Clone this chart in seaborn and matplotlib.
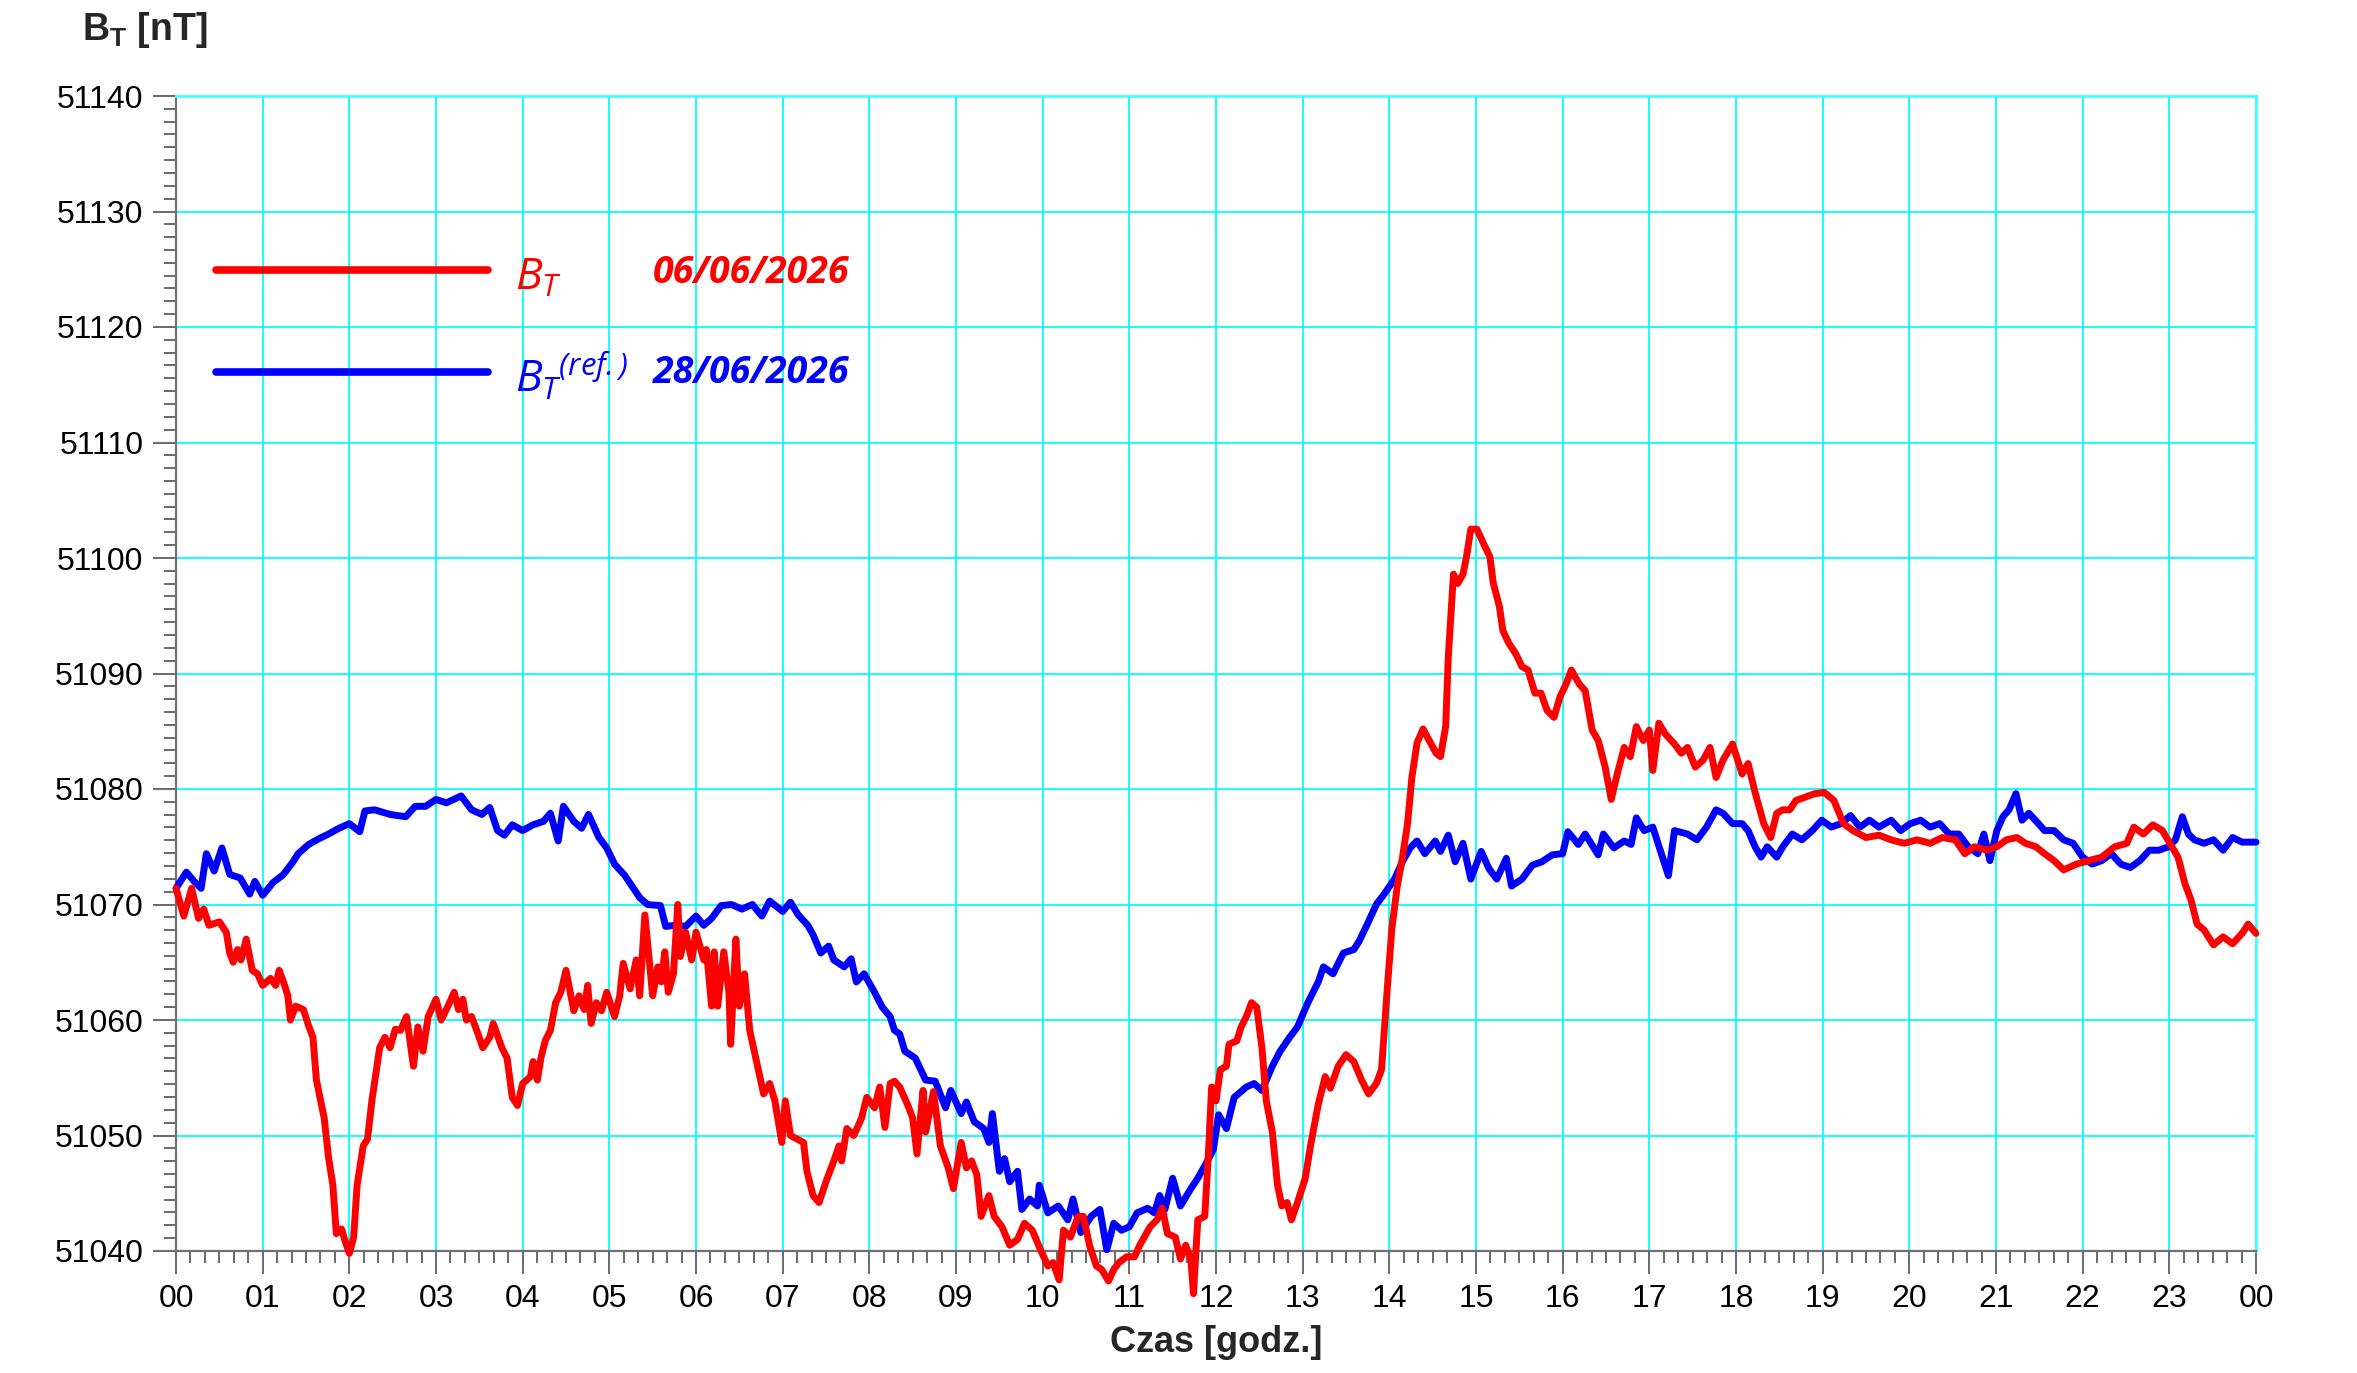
import matplotlib
matplotlib.use('Agg')
import matplotlib.pyplot as plt
from matplotlib.ticker import MultipleLocator, FixedLocator, FormatStrFormatter
from matplotlib.lines import Line2D
import pandas as pd
import seaborn as sns

# B_T 06/06/2026 (hours, nT)
red_h = [0.00, 0.09, 0.18, 0.26, 0.32, 0.38, 0.50, 0.58, 0.62, 0.66, 0.71, 0.75, 0.81, 0.88, 0.94,
         1.00, 1.09, 1.15, 1.19, 1.24, 1.29, 1.32, 1.38, 1.47, 1.53, 1.58, 1.62, 1.71, 1.76, 1.81,
         1.85, 1.91, 1.95, 2.00, 2.05, 2.09, 2.16, 2.21, 2.26, 2.35, 2.41, 2.47, 2.53, 2.59, 2.66,
         2.74, 2.79, 2.85, 2.91, 3.00, 3.06, 3.15, 3.21, 3.26, 3.31, 3.35, 3.41, 3.47, 3.54, 3.62,
         3.66, 3.76, 3.82, 3.88, 3.94, 4.00, 4.09, 4.12, 4.17, 4.21, 4.26, 4.32, 4.38, 4.44, 4.50,
         4.59, 4.65, 4.71, 4.75, 4.79, 4.85, 4.91, 4.97, 5.06, 5.12, 5.16, 5.24, 5.31, 5.35, 5.41,
         5.50, 5.56, 5.60, 5.64, 5.68, 5.74, 5.79, 5.82, 5.88, 5.95, 6.00, 6.09, 6.12, 6.18, 6.21,
         6.25, 6.32, 6.38, 6.40, 6.46, 6.50, 6.56, 6.62, 6.69, 6.78, 6.85, 6.91, 6.99, 7.03, 7.09,
         7.24, 7.28, 7.35, 7.42, 7.50, 7.59, 7.65, 7.68, 7.74, 7.82, 7.91, 7.97, 8.06, 8.12, 8.18,
         8.24, 8.29, 8.35, 8.44, 8.50, 8.55, 8.62, 8.65, 8.74, 8.82, 8.91, 8.97, 9.06, 9.12, 9.18,
         9.24, 9.29, 9.38, 9.44, 9.53, 9.62, 9.71, 9.79, 9.88, 9.97, 10.06, 10.12, 10.19, 10.24, 10.32,
         10.41, 10.47, 10.54, 10.62, 10.68, 10.76, 10.82, 10.88, 10.97, 11.06, 11.12, 11.24, 11.32, 11.38, 11.44,
         11.53, 11.59, 11.65, 11.71, 11.74, 11.79, 11.87, 11.91, 11.95, 12.00, 12.05, 12.12, 12.15, 12.24, 12.29,
         12.35, 12.41, 12.47, 12.53, 12.58, 12.65, 12.71, 12.76, 12.82, 12.87, 12.94, 13.03, 13.09, 13.18, 13.26,
         13.32, 13.41, 13.50, 13.59, 13.68, 13.76, 13.85, 13.91, 13.97, 14.03, 14.09, 14.15, 14.21, 14.26, 14.32,
         14.39, 14.46, 14.54, 14.59, 14.65, 14.68, 14.74, 14.79, 14.85, 14.89, 14.94, 15.01, 15.09, 15.16, 15.20,
         15.27, 15.31, 15.38, 15.46, 15.53, 15.60, 15.68, 15.75, 15.82, 15.90, 15.97, 16.04, 16.10, 16.19, 16.26,
         16.34, 16.41, 16.49, 16.56, 16.63, 16.71, 16.78, 16.85, 16.93, 17.00, 17.04, 17.11, 17.18, 17.29, 17.37,
         17.44, 17.53, 17.62, 17.70, 17.77, 17.85, 17.96, 18.07, 18.14, 18.22, 18.32, 18.40, 18.47, 18.54, 18.62,
         18.69, 18.80, 18.91, 19.02, 19.13, 19.24, 19.35, 19.50, 19.65, 19.79, 19.94, 20.09, 20.24, 20.38, 20.53,
         20.64, 20.75, 20.90, 21.01, 21.12, 21.24, 21.34, 21.46, 21.56, 21.67, 21.78, 21.93, 22.07, 22.22, 22.37,
         22.51, 22.59, 22.70, 22.81, 22.92, 23.03, 23.10, 23.18, 23.25, 23.32, 23.40, 23.51, 23.62, 23.73, 23.84,
         23.91, 24.00]
red_v = [51071.4, 51069.0, 51071.4, 51068.8, 51069.6, 51068.2, 51068.5, 51067.6, 51065.8, 51065.0, 51066.1, 51065.2, 51067.0, 51064.3, 51064.0,
         51063.0, 51063.6, 51063.0, 51064.3, 51063.3, 51062.1, 51060.0, 51061.2, 51060.9, 51059.5, 51058.5, 51054.8, 51051.5, 51048.1, 51045.7,
         51041.5, 51041.9, 51040.9, 51039.8, 51041.2, 51045.7, 51049.1, 51049.7, 51053.0, 51057.6, 51058.5, 51057.6, 51059.2, 51059.1, 51060.3,
         51056.0, 51059.4, 51057.3, 51060.3, 51061.8, 51060.0, 51061.4, 51062.4, 51060.9, 51061.8, 51060.0, 51060.3, 51059.1, 51057.6, 51058.5,
         51059.7, 51057.6, 51056.7, 51053.3, 51052.6, 51054.5, 51055.1, 51056.4, 51054.8, 51056.7, 51058.2, 51059.1, 51061.5, 51062.4, 51064.3,
         51060.8, 51062.1, 51060.9, 51063.0, 51059.7, 51061.5, 51060.8, 51062.4, 51060.3, 51062.1, 51064.9, 51062.7, 51065.2, 51062.1, 51069.1,
         51062.1, 51064.6, 51063.3, 51065.9, 51062.4, 51064.0, 51070.0, 51065.5, 51067.6, 51065.2, 51067.6, 51065.2, 51066.1, 51061.2, 51065.9,
         51061.2, 51065.9, 51062.4, 51057.9, 51067.0, 51061.2, 51064.0, 51059.1, 51056.7, 51053.6, 51054.5, 51053.0, 51049.4, 51053.0, 51050.0,
         51049.4, 51046.9, 51044.8, 51044.2, 51046.0, 51047.8, 51049.1, 51047.8, 51050.6, 51050.0, 51051.5, 51053.3, 51052.4, 51054.2, 51050.7,
         51054.5, 51054.7, 51054.2, 51052.7, 51051.5, 51048.4, 51053.9, 51050.3, 51053.8, 51049.1, 51047.2, 51045.4, 51049.4, 51047.2, 51047.8,
         51046.6, 51043.0, 51044.8, 51043.0, 51042.1, 51040.5, 51041.0, 51042.4, 51041.8, 51040.2, 51038.7, 51039.0, 51037.5, 51041.8, 51041.2,
         51043.0, 51043.0, 51040.5, 51038.7, 51038.4, 51037.4, 51038.4, 51039.0, 51039.5, 51039.5, 51040.5, 51042.1, 51042.7, 51043.7, 51041.5,
         51041.2, 51039.3, 51040.5, 51039.3, 51036.3, 51042.7, 51043.0, 51048.1, 51054.2, 51053.0, 51055.7, 51056.0, 51057.9, 51058.2, 51059.4,
         51060.3, 51061.5, 51061.1, 51057.6, 51053.0, 51050.3, 51045.7, 51043.9, 51044.2, 51042.7, 51044.2, 51046.3, 51049.1, 51052.7, 51055.1,
         51054.1, 51056.0, 51057.0, 51056.4, 51054.8, 51053.6, 51054.5, 51055.7, 51062.1, 51068.0, 51071.5, 51074.0, 51077.0, 51081.0, 51084.0,
         51085.2, 51084.2, 51083.1, 51082.8, 51085.4, 51091.4, 51098.6, 51097.8, 51098.6, 51100.1, 51102.5, 51102.5, 51101.2, 51100.1, 51097.8,
         51095.8, 51093.7, 51092.6, 51091.7, 51090.6, 51090.3, 51088.3, 51088.3, 51086.8, 51086.2, 51088.0, 51089.1, 51090.3, 51089.1, 51088.5,
         51085.1, 51084.2, 51081.9, 51079.1, 51081.3, 51083.6, 51082.8, 51085.4, 51084.2, 51085.1, 51081.6, 51085.7, 51084.8, 51083.9, 51083.1,
         51083.6, 51081.9, 51082.5, 51083.6, 51081.0, 51082.5, 51083.9, 51081.3, 51082.2, 51079.7, 51077.0, 51075.8, 51077.9, 51078.2, 51078.2,
         51079.0, 51079.3, 51079.6, 51079.7, 51079.0, 51077.0, 51076.4, 51075.8, 51076.0, 51075.6, 51075.3, 51075.6, 51075.3, 51075.8, 51075.6,
         51074.4, 51075.0, 51074.7, 51075.0, 51075.6, 51075.8, 51075.3, 51075.0, 51074.4, 51073.8, 51073.0, 51073.5, 51073.8, 51074.1, 51075.0,
         51075.3, 51076.7, 51076.1, 51076.9, 51076.4, 51075.0, 51074.1, 51071.8, 51070.4, 51068.3, 51067.8, 51066.5, 51067.2, 51066.6, 51067.5,
         51068.3, 51067.5]

# B_T(ref.) 28/06/2026 (hours, nT)
blue_h = [0.00, 0.12, 0.21, 0.29, 0.35, 0.44, 0.53, 0.62, 0.74, 0.85, 0.91, 1.00, 1.12, 1.24, 1.35,
          1.41, 1.53, 1.65, 1.76, 1.88, 2.00, 2.12, 2.18, 2.29, 2.47, 2.65, 2.76, 2.88, 3.00, 3.12,
          3.29, 3.41, 3.53, 3.62, 3.71, 3.79, 3.88, 4.00, 4.12, 4.24, 4.32, 4.41, 4.47, 4.59, 4.68,
          4.76, 4.88, 4.97, 5.06, 5.18, 5.26, 5.35, 5.44, 5.59, 5.65, 5.76, 5.88, 6.00, 6.09, 6.18,
          6.29, 6.41, 6.53, 6.65, 6.76, 6.85, 7.00, 7.09, 7.18, 7.29, 7.35, 7.44, 7.53, 7.59, 7.71,
          7.79, 7.85, 7.94, 8.00, 8.06, 8.15, 8.24, 8.29, 8.35, 8.41, 8.53, 8.65, 8.76, 8.88, 8.94,
          9.06, 9.12, 9.21, 9.32, 9.38, 9.42, 9.50, 9.56, 9.62, 9.71, 9.76, 9.85, 9.94, 9.96, 10.06,
          10.18, 10.29, 10.35, 10.44, 10.56, 10.66, 10.74, 10.82, 10.91, 11.00, 11.09, 11.21, 11.29, 11.35, 11.41,
          11.50, 11.59, 11.71, 11.79, 11.88, 11.97, 12.03, 12.12, 12.21, 12.35, 12.44, 12.53, 12.65, 12.74, 12.85,
          12.94, 13.06, 13.18, 13.24, 13.35, 13.47, 13.59, 13.65, 13.74, 13.85, 13.94, 14.06, 14.15, 14.24, 14.32,
          14.41, 14.53, 14.59, 14.68, 14.76, 14.85, 14.94, 15.06, 15.15, 15.24, 15.35, 15.41, 15.53, 15.65, 15.76,
          15.88, 16.00, 16.06, 16.18, 16.26, 16.41, 16.47, 16.59, 16.71, 16.79, 16.85, 16.94, 17.04, 17.22, 17.29,
          17.44, 17.55, 17.66, 17.77, 17.85, 17.96, 18.07, 18.14, 18.22, 18.29, 18.36, 18.47, 18.54, 18.65, 18.76,
          18.88, 18.99, 19.10, 19.21, 19.32, 19.43, 19.54, 19.65, 19.79, 19.90, 20.01, 20.13, 20.24, 20.35, 20.46,
          20.57, 20.68, 20.79, 20.86, 20.93, 21.01, 21.08, 21.15, 21.23, 21.30, 21.38, 21.49, 21.56, 21.67, 21.78,
          21.89, 22.00, 22.11, 22.22, 22.33, 22.44, 22.55, 22.66, 22.77, 22.88, 22.99, 23.07, 23.15, 23.22, 23.29,
          23.40, 23.51, 23.62, 23.73, 23.84, 24.00]
blue_v = [51071.4, 51072.8, 51072.0, 51071.4, 51074.4, 51072.9, 51074.9, 51072.6, 51072.3, 51070.9, 51072.0, 51070.8, 51071.9, 51072.6, 51073.7,
          51074.4, 51075.2, 51075.7, 51076.1, 51076.6, 51077.0, 51076.3, 51078.1, 51078.2, 51077.8, 51077.6, 51078.5, 51078.5, 51079.1, 51078.8,
          51079.4, 51078.2, 51077.8, 51078.4, 51076.4, 51076.0, 51076.9, 51076.4, 51076.9, 51077.2, 51077.9, 51075.5, 51078.5, 51077.2, 51076.6,
          51077.8, 51075.8, 51074.9, 51073.5, 51072.5, 51071.6, 51070.6, 51070.0, 51069.9, 51068.1, 51068.2, 51068.1, 51069.0, 51068.2, 51068.8,
          51069.9, 51070.0, 51069.6, 51070.0, 51069.0, 51070.3, 51069.4, 51070.2, 51069.1, 51068.2, 51067.4, 51065.8, 51066.4, 51065.2, 51064.6,
          51065.3, 51063.3, 51064.0, 51063.2, 51062.4, 51061.1, 51060.3, 51059.1, 51058.8, 51057.3, 51056.7, 51054.8, 51054.7, 51052.4, 51053.9,
          51051.9, 51052.9, 51051.2, 51050.6, 51049.4, 51051.9, 51046.9, 51048.0, 51046.0, 51046.9, 51043.6, 51044.5, 51043.9, 51045.7, 51043.3,
          51043.9, 51042.7, 51044.5, 51041.6, 51043.0, 51043.6, 51040.1, 51042.4, 51041.8, 51042.1, 51043.3, 51043.7, 51043.3, 51044.8, 51043.6,
          51046.3, 51043.9, 51045.4, 51046.3, 51047.5, 51048.8, 51051.8, 51050.6, 51053.3, 51054.2, 51054.5, 51053.9, 51056.0, 51057.3, 51058.5,
          51059.4, 51061.5, 51063.3, 51064.6, 51064.0, 51065.8, 51066.1, 51066.8, 51068.2, 51070.0, 51070.9, 51072.2, 51073.7, 51074.9, 51075.5,
          51074.4, 51075.5, 51074.6, 51076.0, 51073.7, 51075.3, 51072.2, 51074.6, 51073.1, 51072.2, 51074.0, 51071.6, 51072.2, 51073.4, 51073.7,
          51074.3, 51074.4, 51076.3, 51075.2, 51076.1, 51074.3, 51076.1, 51074.9, 51075.5, 51075.2, 51077.5, 51076.4, 51076.7, 51072.5, 51076.4,
          51076.1, 51075.6, 51076.7, 51078.2, 51077.9, 51077.0, 51077.0, 51076.4, 51075.0, 51074.1, 51075.0, 51074.1, 51075.0, 51076.1, 51075.6,
          51076.4, 51077.3, 51076.7, 51077.0, 51077.7, 51076.7, 51077.3, 51076.7, 51077.3, 51076.4, 51077.0, 51077.3, 51076.7, 51077.0, 51076.1,
          51076.1, 51075.0, 51074.4, 51076.1, 51073.8, 51076.4, 51077.6, 51078.2, 51079.6, 51077.3, 51077.9, 51077.0, 51076.4, 51076.4, 51075.6,
          51075.3, 51074.1, 51073.5, 51073.8, 51074.4, 51073.5, 51073.2, 51073.8, 51074.7, 51074.7, 51075.0, 51075.6, 51077.6, 51076.1, 51075.6,
          51075.3, 51075.6, 51074.7, 51075.8, 51075.4, 51075.4]

hour_labels = ['%02d' % (h % 24) for h in range(25)]
day_date = '06/06/2026'
ref_date = '28/06/2026'

sns.set_style('white')
plt.rcParams['font.family'] = ['Liberation Sans', 'DejaVu Sans']
plt.rcParams['mathtext.fontset'] = 'custom'
plt.rcParams['mathtext.rm'] = 'Open Sans:italic'
plt.rcParams['mathtext.it'] = 'Open Sans:italic'
plt.rcParams['mathtext.bf'] = 'Liberation Sans:bold'

W, H = 2357, 1373
fig = plt.figure(figsize=(W / 100, H / 100), dpi=100)
ax = fig.add_axes([176 / W, 1 - 1251 / H, 2080 / W, 1155 / H])

df_blue = pd.DataFrame({'h': blue_h, 'B': blue_v})
df_red = pd.DataFrame({'h': red_h, 'B': red_v})
sns.lineplot(data=df_blue, x='h', y='B', color='#0000FF', lw=5.0, ax=ax,
             estimator=None, sort=False, clip_on=False, zorder=3)
sns.lineplot(data=df_red, x='h', y='B', color='#FF0000', lw=5.0, ax=ax,
             estimator=None, sort=False, clip_on=False, zorder=4)

ax.set_xlim(0, 24)
ax.set_ylim(51040, 51140)
ax.xaxis.set_major_locator(FixedLocator(range(25)))
ax.set_xticklabels(hour_labels)
ax.xaxis.set_minor_locator(MultipleLocator(1 / 6))
ax.yaxis.set_major_locator(MultipleLocator(10))
ax.yaxis.set_minor_locator(MultipleLocator(10 / 9))
ax.yaxis.set_major_formatter(FormatStrFormatter('%d'))

ax.grid(True, which='major', color='#00FFFF', lw=1.3)
ax.set_axisbelow(True)
for s in ['left', 'bottom']:
    ax.spines[s].set_color('#707070')
    ax.spines[s].set_linewidth(1.6)
for s in ['top', 'right']:
    ax.spines[s].set_color('#40FFFF')
    ax.spines[s].set_linewidth(2.0)

ax.tick_params(which='both', bottom=True, left=True, top=False, right=False, direction='out')
ax.tick_params(axis='both', which='major', length=16.5, width=1.2,
               color='#505050', labelsize=23, labelcolor='black', pad=7)
ax.tick_params(axis='both', which='minor', length=8.5, width=1.2, color='#505050')

ax.set_xlabel('Czas [godz.]', fontsize=26, fontweight='bold', va='center')
ax.xaxis.set_label_coords(0.5, (1251 - 1343) / 1155)
ax.set_ylabel('')
fig.text(82 / W, 1 - 40 / H, r'$\mathbf{B_T}$ [nT]', fontsize=27, fontweight='bold', va='baseline')

# legend
ax.add_line(Line2D([0.019, 0.150], [0.849, 0.849], transform=ax.transAxes, color='#FF0000',
                   lw=5.5, solid_capstyle='round', zorder=5))
ax.add_line(Line2D([0.019, 0.150], [0.761, 0.761], transform=ax.transAxes, color='#0000FF',
                   lw=5.5, solid_capstyle='round', zorder=5))
ax.text(0.163, 0.832, r'$B_T$', transform=ax.transAxes, fontsize=32, color='#FF0000', va='baseline')
ax.text(0.163, 0.743, r'$B_T{}^{(ref.)}$', transform=ax.transAxes, fontsize=32, color='#0000FF', va='baseline')
ax.text(0.2293, 0.838, day_date, transform=ax.transAxes, fontsize=27, fontweight='bold',
        fontstyle='italic', family='Open Sans', color='#FF0000', va='baseline')
ax.text(0.2293, 0.7515, ref_date, transform=ax.transAxes, fontsize=27, fontweight='bold',
        fontstyle='italic', family='Open Sans', color='#0000FF', va='baseline')

fig.savefig('out.png', dpi=100)
